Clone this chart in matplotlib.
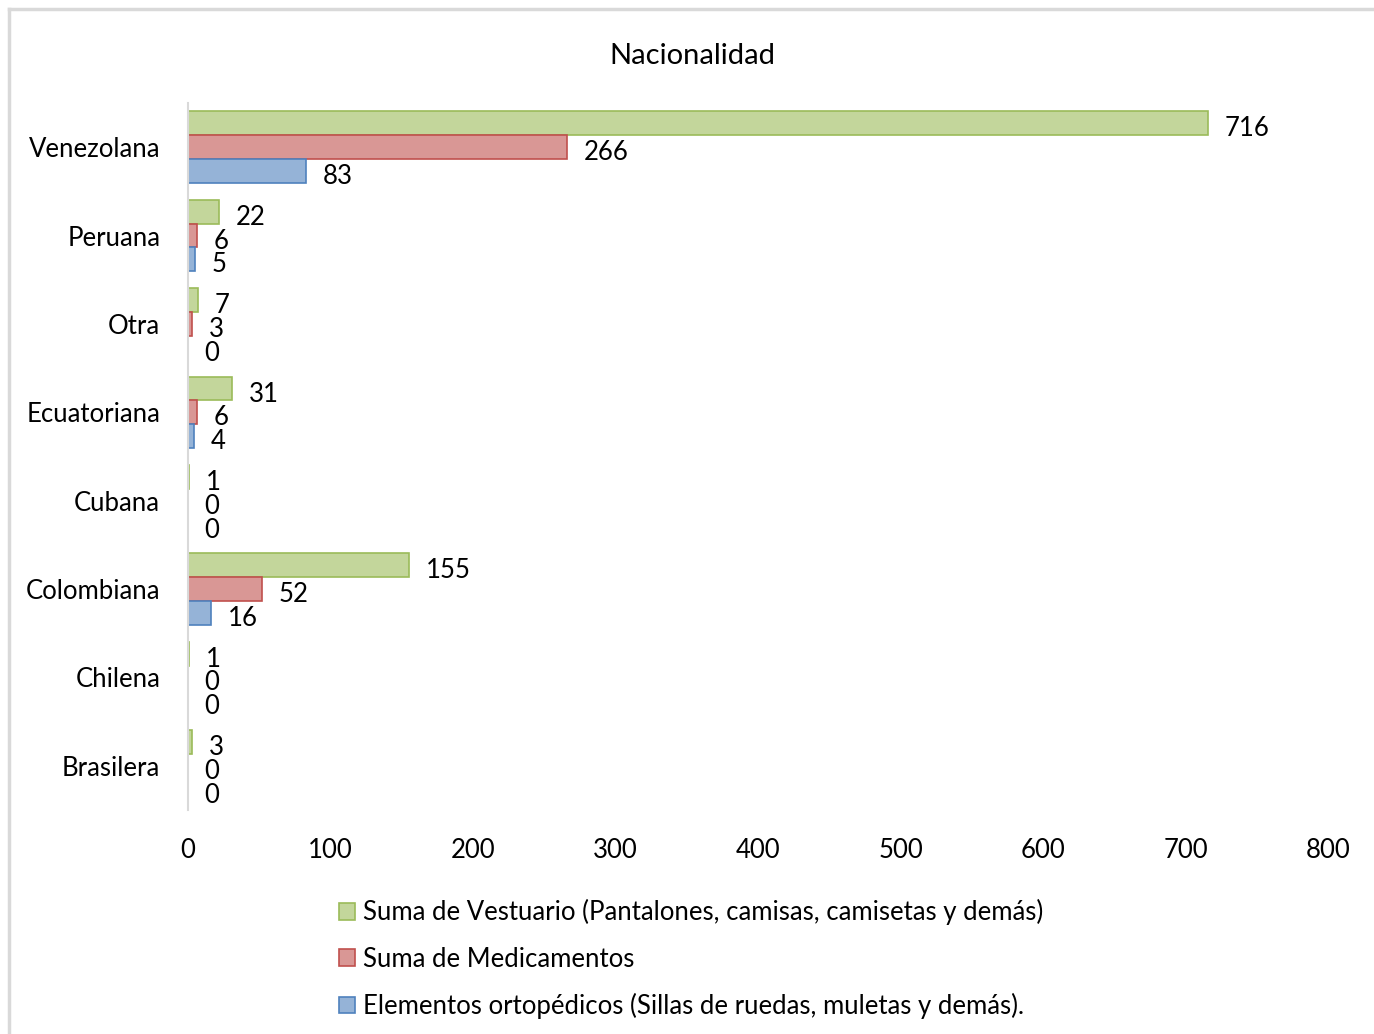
import matplotlib
matplotlib.use('Agg')
import matplotlib.pyplot as plt
from matplotlib.patches import Patch
from matplotlib.lines import Line2D
import numpy as np

plt.rcParams['font.family'] = ['Lato', 'DejaVu Sans']

# donaciones por nacionalidad
nacionalidad = ['Venezolana', 'Peruana', 'Otra', 'Ecuatoriana', 'Cubana',
                'Colombiana', 'Chilena', 'Brasilera']
vestuario = [716, 22, 7, 31, 1, 155, 1, 3]
medicamentos = [266, 6, 3, 6, 0, 52, 0, 0]
ortopedicos = [83, 5, 0, 4, 0, 16, 0, 0]

series = [
    ('Suma de Vestuario (Pantalones, camisas, camisetas y demás)', vestuario, '#c3d69b', '#9bbb59'),
    ('Suma de Medicamentos', medicamentos, '#d99795', '#c0504d'),
    ('Elementos ortopédicos (Sillas de ruedas, muletas y demás).', ortopedicos, '#95b3d7', '#4f81bd'),
]

fs = 18.5

fig = plt.figure(figsize=(13.74, 10.34), dpi=100)
ax = fig.add_axes([188/1374, 1-810/1034, (1328-188)/1374, (810-103)/1034])

n = len(nacionalidad)
pos = np.arange(n)[::-1]  # Venezolana arriba
h = 0.27
offsets = [h, 0, -h]

for (nombre, vals, fc, ec), off in zip(series, offsets):
    bars = ax.barh(pos + off, vals, height=h, color=fc, edgecolor=ec, linewidth=1.2)
    for b, v in zip(bars, vals):
        ax.annotate(str(v), (b.get_width(), b.get_y() + b.get_height()/2),
                    xytext=(12, -4), textcoords='offset points',
                    ha='left', va='center', fontsize=fs)

ax.set_xlim(0, 800)
ax.set_ylim(-0.5, n - 0.5)
ax.set_xticks(range(0, 801, 100))
ax.set_yticks(pos)
ax.set_yticklabels(nacionalidad)
ax.tick_params(axis='both', length=0, labelsize=fs)
ax.tick_params(axis='y', pad=20)
ax.tick_params(axis='x', pad=20)
for s in ['top', 'right', 'bottom']:
    ax.spines[s].set_visible(False)
ax.spines['left'].set_color('#d9d9d9')
ax.spines['left'].set_linewidth(1.5)

fig.text(692/1374, 1-56/1034, 'Nacionalidad', ha='center', va='center', fontsize=21)

handles = [Patch(facecolor=fc, edgecolor=ec, linewidth=1.2) for _, _, fc, ec in series]
fig.legend(handles, [s[0] for s in series], loc='upper left',
           bbox_to_anchor=(316/1374, 1-876/1034), frameon=False, fontsize=fs,
           handlelength=0.62, handleheight=0.62, handletextpad=0.3, labelspacing=0.83)

# marco del gráfico
fig.add_artist(Line2D([9/1374, 9/1374], [0, 1-9/1034], color='#d9d9d9', lw=2.5))
fig.add_artist(Line2D([9/1374, 1], [1-9/1034, 1-9/1034], color='#d9d9d9', lw=2.5))

fig.savefig('out.png', dpi=100)
